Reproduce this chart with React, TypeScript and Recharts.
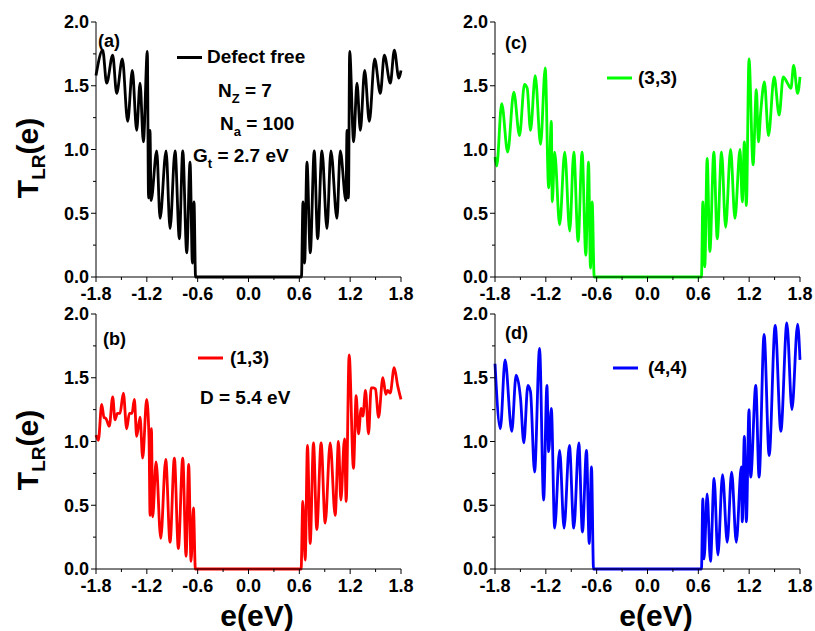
import React from 'react'
import { LineChart, Line, XAxis, YAxis } from 'recharts'

// tick values (major + minor)
const X_TICKS = [-1.8, -1.5, -1.2, -0.9, -0.6, -0.3, 0, 0.3, 0.6, 0.9, 1.2, 1.5, 1.8]
const Y_TICKS = [0, 0.25, 0.5, 0.75, 1, 1.25, 1.5, 1.75, 2]

// (a) defect free
const E_A = [-1.8, -1.721, -1.674, -1.603, -1.556, -1.489, -1.426, -1.371, -1.32, -1.28, -1.241, -1.194, -1.18, -1.163, -1.15, -1.083, -1.044, -0.973, -0.926, -0.867, -0.816, -0.776, -0.729, -0.69, -0.662, -0.643, -0.625, 0.625, 0.643, 0.662, 0.69, 0.729, 0.776, 0.816, 0.867, 0.926, 0.973, 1.044, 1.083, 1.15, 1.163, 1.18, 1.194, 1.241, 1.28, 1.32, 1.371, 1.426, 1.489, 1.556, 1.603, 1.674, 1.721, 1.775, 1.8]
const T_A = [1.58, 1.78, 1.52, 1.74, 1.44, 1.71, 1.22, 1.62, 1.15, 1.52, 1.06, 1.77, 0.62, 1.15, 0.6, 0.99, 0.46, 0.99, 0.38, 0.99, 0.3, 0.99, 0.19, 0.9, 0.11, 0.59, 0, 0, 0.59, 0.11, 0.9, 0.19, 0.99, 0.3, 0.99, 0.38, 0.99, 0.46, 0.99, 0.6, 1.15, 0.62, 1.77, 1.06, 1.52, 1.15, 1.62, 1.22, 1.71, 1.44, 1.74, 1.52, 1.78, 1.56, 1.62]

// (b) (1,3)
const E_B = [-1.8, -1.772, -1.733, -1.706, -1.682, -1.643, -1.603, -1.576, -1.548, -1.517, -1.477, -1.438, -1.406, -1.375, -1.347, -1.32, -1.28, -1.249, -1.202, -1.174, -1.162, -1.146, -1.131, -1.091, -1.036, -0.977, -0.926, -0.875, -0.828, -0.776, -0.737, -0.706, -0.678, -0.65, -0.627, 0.621, 0.641, 0.669, 0.696, 0.728, 0.767, 0.806, 0.857, 0.905, 0.964, 1.023, 1.062, 1.09, 1.133, 1.153, 1.188, 1.239, 1.271, 1.298, 1.33, 1.35, 1.381, 1.417, 1.448, 1.476, 1.499, 1.535, 1.586, 1.621, 1.641, 1.672, 1.72, 1.76, 1.8]
const T_B = [1.05, 1.01, 1.29, 1.19, 1.18, 1.12, 1.35, 1.17, 1.22, 1.22, 1.38, 1.1, 1.22, 1.22, 1.33, 1.04, 1.19, 0.87, 1.33, 1.02, 0.42, 1.1, 0.41, 0.84, 0.24, 0.86, 0.21, 0.87, 0.16, 0.87, 0.1, 0.82, 0.06, 0.48, 0, 0, 0.53, 0.07, 0.97, 0.2, 0.99, 0.31, 0.99, 0.36, 0.99, 0.42, 1.0, 0.54, 1.02, 0.53, 1.68, 0.79, 1.36, 1.06, 1.26, 1.2, 1.4, 1.06, 1.42, 1.42, 1.41, 1.19, 1.5, 1.37, 1.4, 1.38, 1.58, 1.44, 1.33]

// (c) (3,3)
const E_C = [-1.8, -1.78, -1.721, -1.65, -1.578, -1.511, -1.452, -1.42, -1.381, -1.325, -1.262, -1.207, -1.167, -1.135, -1.124, -1.096, -1.037, -0.977, -0.918, -0.87, -0.819, -0.772, -0.728, -0.696, -0.673, -0.653, -0.629, 0.637, 0.653, 0.676, 0.704, 0.736, 0.783, 0.823, 0.874, 0.922, 0.981, 1.032, 1.092, 1.119, 1.143, 1.167, 1.198, 1.246, 1.285, 1.309, 1.337, 1.38, 1.428, 1.495, 1.554, 1.602, 1.653, 1.693, 1.725, 1.772, 1.8]
const T_C = [0.94, 0.87, 1.36, 0.98, 1.45, 1.11, 1.51, 1.48, 1.15, 1.58, 1.04, 1.64, 0.7, 1.22, 0.59, 0.98, 0.41, 0.98, 0.36, 0.98, 0.28, 0.98, 0.17, 0.9, 0.07, 0.59, 0, 0, 0.59, 0.08, 0.93, 0.2, 0.98, 0.3, 0.98, 0.39, 1.0, 0.46, 1.0, 0.59, 1.06, 0.56, 1.71, 0.88, 1.47, 1.06, 1.3, 1.53, 1.11, 1.57, 1.27, 1.57, 1.52, 1.48, 1.66, 1.44, 1.57]

// (d) (4,4)
const E_D = [-1.8, -1.737, -1.681, -1.602, -1.551, -1.499, -1.46, -1.412, -1.381, -1.333, -1.274, -1.226, -1.187, -1.167, -1.135, -1.096, -1.037, -0.985, -0.922, -0.87, -0.811, -0.768, -0.72, -0.688, -0.661, -0.637, 0.637, 0.653, 0.668, 0.704, 0.743, 0.786, 0.831, 0.886, 0.941, 0.993, 1.048, 1.107, 1.119, 1.143, 1.167, 1.198, 1.218, 1.278, 1.317, 1.376, 1.436, 1.507, 1.574, 1.645, 1.705, 1.772, 1.8]
const T_D = [1.61, 1.1, 1.64, 1.08, 1.52, 1.34, 0.99, 1.44, 1.39, 0.76, 1.73, 0.54, 1.44, 0.92, 1.26, 0.32, 0.93, 0.32, 0.97, 0.32, 0.99, 0.29, 0.93, 0.2, 0.8, 0, 0, 0.55, 0.08, 0.59, 0.06, 0.71, 0.11, 0.74, 0.21, 0.76, 0.21, 0.8, 0.37, 1.04, 0.37, 1.25, 0.72, 1.44, 0.72, 1.84, 0.89, 1.91, 1.08, 1.93, 1.25, 1.92, 1.64]

const FONT = '"Liberation Sans", Arial, Helvetica, sans-serif'

const toRows = (es: number[], ts: number[]) => es.map((e, i) => ({ e, t: ts[i] }))

const XTick = (props: any) => {
  const { x, y, payload } = props
  const v = payload.value
  const major = Math.round(v * 10) % 6 === 0
  return (
    <g>
      <line x1={x} y1={y} x2={x} y2={y + (major ? 5 : 3)} stroke="#000" strokeWidth={1} />
      {major && (
        <text x={x} y={y + 23} textAnchor="middle" fontSize={18} fontWeight="bold" fontFamily={FONT} fill="#000">
          {v.toFixed(1)}
        </text>
      )}
    </g>
  )
}

const YTick = (props: any) => {
  const { x, y, payload } = props
  const v = payload.value
  const major = Math.round(v * 4) % 2 === 0
  return (
    <g>
      <line x1={x} y1={y} x2={x - (major ? 5 : 3)} y2={y} stroke="#000" strokeWidth={1} />
      {major && (
        <text x={x - 7} y={y} dy="0.36em" textAnchor="end" fontSize={18} fontWeight="bold" fontFamily={FONT} fill="#000">
          {v.toFixed(1)}
        </text>
      )}
    </g>
  )
}

function Panel({ rows, color, left, top }: any) {
  return (
    <div style={{ position: 'absolute', left, top }}>
      <LineChart width={385} height={295} data={rows} margin={{ top: 10, right: 20, left: 0, bottom: 0 }}>
        <XAxis type="number" dataKey="e" domain={[-1.8, 1.8]} ticks={X_TICKS} interval={0}
          tick={(p: any) => <XTick {...p} />} tickLine={false} tickSize={0} tickMargin={0}
          axisLine={{ stroke: '#000' }} height={30} />
        <XAxis xAxisId="top" orientation="top" type="number" domain={[-1.8, 1.8]}
          tick={false} tickLine={false} axisLine={{ stroke: '#000' }} height={0} />
        <YAxis type="number" domain={[0, 2]} ticks={Y_TICKS} interval={0}
          tick={(p: any) => <YTick {...p} />} tickLine={false} tickSize={0} tickMargin={0}
          axisLine={{ stroke: '#000' }} width={60} />
        <YAxis yAxisId="right" orientation="right" type="number" domain={[0, 2]}
          tick={false} tickLine={false} axisLine={{ stroke: '#000' }} width={0} />
        <Line type="monotone" dataKey="t" stroke={color} strokeWidth={2.8} dot={false} isAnimationActive={false} />
      </LineChart>
    </div>
  )
}

const txt = { fontFamily: FONT, fontWeight: 'bold' as const, fill: '#000' }

export default function App() {
  return (
    <div style={{ position: 'absolute', left: 0, top: 0, width: 815, height: 631, background: '#fff', overflow: 'hidden' }}>
      <Panel rows={toRows(E_A, T_A)} color="#000000" left={36} top={12} />
      <Panel rows={toRows(E_C, T_C)} color="#00ff00" left={435} top={12} />
      <Panel rows={toRows(E_B, T_B)} color="#ff0000" left={36} top={304} />
      <Panel rows={toRows(E_D, T_D)} color="#0000ff" left={435} top={304} />
      <svg width={815} height={631} style={{ position: 'absolute', left: 0, top: 0, pointerEvents: 'none' }}>
        {/* y titles */}
        {[158, 450].map((cy) => (
          <text key={cy} transform={`translate(38,${cy}) rotate(-90)`} textAnchor="middle" fontSize={30} {...txt}>
            T<tspan fontSize={19} dy={7}>LR</tspan><tspan fontSize={30} dy={-7}>(e)</tspan>
          </text>
        ))}
        {/* x titles */}
        <text x={257} y={626} textAnchor="middle" fontSize={30} {...txt}>e(eV)</text>
        <text x={656} y={626} textAnchor="middle" fontSize={30} {...txt}>e(eV)</text>

        {/* (a) */}
        <text x={98} y={47} fontSize={18} {...txt}>(a)</text>
        <line x1={177} y1={57.5} x2={202} y2={57.5} stroke="#000" strokeWidth={3} />
        <text x={207} y={63} fontSize={19} {...txt}>Defect free</text>
        <text x={218} y={97} fontSize={19} {...txt}>N<tspan fontSize={13} dy={6}>Z</tspan><tspan fontSize={19} dy={-6}> = 7</tspan></text>
        <text x={220} y={130} fontSize={19} {...txt}>N<tspan fontSize={13} dy={6}>a</tspan><tspan fontSize={19} dy={-6}> = 100</tspan></text>
        <text x={193} y={162} fontSize={19} {...txt}>G<tspan fontSize={13} dy={6}>t</tspan><tspan fontSize={19} dy={-6}> = 2.7 eV</tspan></text>

        {/* (c) */}
        <text x={505} y={49} fontSize={18} {...txt}>(c)</text>
        <line x1={607} y1={78} x2={632} y2={78} stroke="#00ff00" strokeWidth={3} />
        <text x={638} y={84} fontSize={19} {...txt}>(3,3)</text>

        {/* (b) */}
        <text x={103} y={345} fontSize={18} {...txt}>(b)</text>
        <line x1={198} y1={358} x2={223} y2={358} stroke="#ff0000" strokeWidth={3} />
        <text x={230} y={364} fontSize={19} {...txt}>(1,3)</text>
        <text x={200} y={404} fontSize={19} {...txt}>D = 5.4 eV</text>

        {/* (d) */}
        <text x={505} y={339} fontSize={18} {...txt}>(d)</text>
        <line x1={613} y1={368} x2={638} y2={368} stroke="#0000ff" strokeWidth={3} />
        <text x={648} y={374} fontSize={19} {...txt}>(4,4)</text>
      </svg>
    </div>
  )
}
